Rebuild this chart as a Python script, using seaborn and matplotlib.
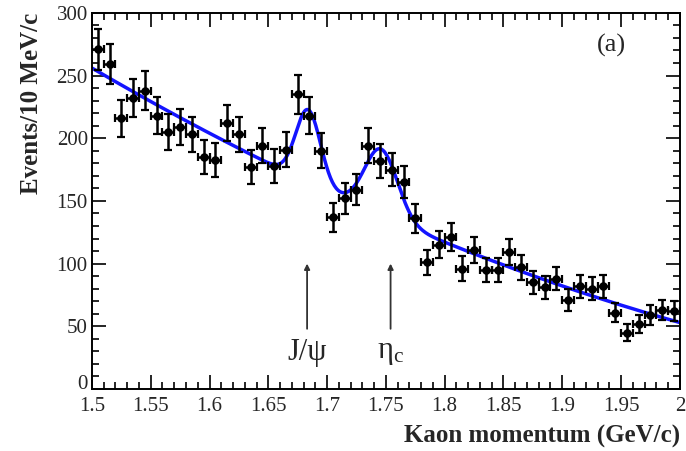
import numpy as np
import pandas as pd
import matplotlib
matplotlib.use("Agg")
import matplotlib.pyplot as plt
import matplotlib.transforms as mtransforms
from matplotlib.ticker import MultipleLocator
import seaborn as sns

# Kaon momentum bin centres (GeV/c), 10 MeV/c bins
momentum = np.round(np.arange(1.505, 2.0, 0.01), 3)

# Events per bin
events = [271, 259, 216, 232, 238, 218, 205, 209, 203, 185,
          183, 212, 203, 177, 194, 178, 191, 235, 218, 190,
          137, 152, 159, 194, 182, 175, 165, 136, 101, 115,
          121, 96, 111, 95, 95, 109, 97, 85, 81, 88,
          71, 82, 80, 82, 61, 45, 52, 59, 63, 62]

# Fit: quadratic background plus two Gaussian peaks
bkg_coeffs = [256.0, -548.5, 285.0]          # in (p - 1.5)
peak_means = [1.684, 1.746]
peak_sigmas = [0.0105, 0.014]
peak_amps = [58.0, 53.0]

# Signal labels and arrow positions
peak_labels = ["J/\u03c8", r"$\mathrm{\eta}_\mathrm{c}$"]
arrow_x = [1.683, 1.754]

x_ticks = [1.5, 1.55, 1.6, 1.65, 1.7, 1.75, 1.8, 1.85, 1.9, 1.95, 2.0]
x_ticklabels = ["1.5", "1.55", "1.6", "1.65", "1.7", "1.75", "1.8",
                "1.85", "1.9", "1.95", "2"]
y_ticks = [0, 50, 100, 150, 200, 250, 300]


def fit_model(p):
    t = p - 1.5
    y = bkg_coeffs[0] + bkg_coeffs[1] * t + bkg_coeffs[2] * t ** 2
    for m, s, a in zip(peak_means, peak_sigmas, peak_amps):
        y = y + a * np.exp(-0.5 * ((p - m) / s) ** 2)
    return y


sns.set_theme(style="ticks")
plt.rcParams["font.family"] = ["Liberation Serif", "DejaVu Serif"]
plt.rcParams["mathtext.fontset"] = "custom"
plt.rcParams["mathtext.rm"] = "Liberation Serif"
plt.rcParams["mathtext.it"] = "Liberation Serif:italic"

data = pd.DataFrame({"p": momentum, "n": events})
data["err"] = np.sqrt(data["n"])

p_fine = np.linspace(1.5, 2.0, 600)
fit = pd.DataFrame({"p": p_fine, "n": fit_model(p_fine)})

fig = plt.figure(figsize=(6.86, 4.51), dpi=100)
ax = fig.add_axes([0.134, 0.1375, 0.857, 0.834])

sns.lineplot(data=fit, x="p", y="n", ax=ax, color="#1414ff", lw=2.5,
             zorder=2)
ax.errorbar(data["p"], data["n"], yerr=data["err"], xerr=0.005,
            fmt="none", ecolor="black", elinewidth=1.8, capsize=3,
            capthick=1.6, zorder=3)
sns.scatterplot(data=data, x="p", y="n", ax=ax, color="black", s=38,
                edgecolor="black", linewidth=0, zorder=4)

ax.set_xlim(1.5, 2.0)
ax.set_ylim(0, 300)

# Peak markers
for xa, lab in zip(arrow_x, peak_labels):
    ax.annotate("", xy=(xa, 100), xytext=(xa, 48),
                arrowprops=dict(arrowstyle="-|>", color="#333333", lw=1.3,
                                mutation_scale=8, shrinkA=0, shrinkB=0))
    ax.text(xa, 29, lab, ha="center", va="center", fontsize=22)

ax.text(1.942, 274, "(a)", ha="center", va="center", fontsize=19)

ax.set_xticks(x_ticks)
ax.set_xticklabels(x_ticklabels)
ax.set_yticks(y_ticks)
ax.xaxis.set_minor_locator(MultipleLocator(0.01))
ax.yaxis.set_minor_locator(MultipleLocator(10))
ax.tick_params(which="both", direction="in", top=True, right=True,
               labelsize=15, width=1.2, color="black")
ax.tick_params(axis="x", pad=6)
ax.tick_params(axis="y", pad=3)
ax.tick_params(which="major", length=10)
ax.tick_params(which="minor", length=5)
for sp in ax.spines.values():
    sp.set_linewidth(1.4)
    sp.set_color("black")

# Lift the "0" label clear of the first x label at the corner
zero_label = ax.get_yticklabels()[0]
zero_label.set_transform(zero_label.get_transform() +
                         mtransforms.ScaledTranslation(0, 5 / 72,
                                                       fig.dpi_scale_trans))

ax.set_xlabel("Kaon momentum (GeV/c)", fontsize=18, fontweight="bold",
              loc="right", labelpad=6)
ax.set_ylabel("Events/10 MeV/c", fontsize=18, fontweight="bold",
              loc="top", labelpad=10)

fig.savefig("out.png", dpi=100, facecolor="white")
